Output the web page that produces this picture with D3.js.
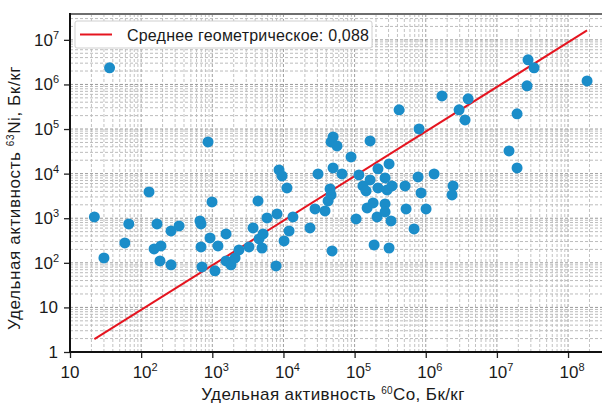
<!DOCTYPE html>
<html>
<head>
<meta charset="utf-8">
<script src="https://cdn.jsdelivr.net/npm/d3@7"></script>
<style>
  html, body { margin: 0; padding: 0; background: #fff; }
  svg { display: block; font-family: "Liberation Sans", Arial, sans-serif; }
</style>
</head>
<body>
<svg id="chart" width="602" height="406"></svg>
<script>
// Specific activity of 60Co (x) and 63Ni (y) per sample, Bq/kg
const co60 = [
  22, 30, 59, 67, 36, 129, 167, 152, 190, 184,
  263, 341, 263, 671, 694, 929, 694, 716, 871, 991,
  1090, 1200, 1560, 1560, 1830, 2090, 2370, 3280, 3740, 4390,
  4540, 5000, 5170, 5880, 8130, 7870, 8670, 9550, 11200, 10200,
  12000, 13600, 23600, 27800, 38400, 30600, 48200, 42400, 46700, 45200,
  49800, 49800, 46700, 56600, 66500, 89100, 115000, 105000, 150000, 165000,
  165000, 131000, 145000, 182000, 213000, 213000, 207000, 188000, 268000, 268000,
  268000, 286000, 305000, 336000, 325000, 305000, 422000, 512000, 529000, 685000,
  805000, 780000, 859000, 1010000, 1310000, 1690000, 2420000, 2340000, 2940000, 3570000,
  3940000, 14800000, 19200000, 19200000, 26500000, 27400000, 33300000, 185000000
];
const ni63 = [
  1070, 129, 279, 745, 2360000, 3890, 745, 205, 239, 110,
  519, 671, 90, 869, 745, 361, 227, 81, 51500, 2320,
  66, 239, 444, 110, 90, 129, 194, 227, 606, 2440,
  343, 215, 444, 1015, 1250, 85, 12100, 8890, 4780, 309,
  519, 1070, 606, 1620, 1460, 9860, 185, 2440, 3330, 4540,
  13400, 66700, 51500, 41900, 9860, 23700, 9360, 964, 1700, 54200,
  7230, 5300, 4100, 2200, 12800, 4780, 1070, 252, 8020, 2090,
  1380, 4310, 16500, 5300, 869, 215, 269000, 5300, 1620, 575,
  100700, 8440, 3690, 1620, 9860, 554000, 5300, 3330, 269000, 160000,
  475000, 32300, 13400, 219000, 929000, 3560000, 2360000, 1200000
];
const geoMeanRatio = 0.088;
const legendLabel = "Среднее геометрическое: 0,088";
const xMajorTicks = [10, 1e2, 1e3, 1e4, 1e5, 1e6, 1e7, 1e8];
const yMajorTicks = [1, 10, 1e2, 1e3, 1e4, 1e5, 1e6, 1e7];
const xTitle = ["Удельная активность ", "60", "Co, Бк/кг"];
const yTitle = ["Удельная активность ", "63", "Ni, Бк/кг"];

const svg = d3.select("#chart");
const pLeft = 70, pRight = 602, pTop = 14, pBottom = 352;

const x = d3.scaleLog().domain([10, 3e8]).range([pLeft, pRight]);
const y = d3.scaleLog().domain([1, 3.8e7]).range([pBottom, pTop]);

// minor ticks: 2..9 within each decade
function minors(scale) {
  const [a, b] = scale.domain();
  const out = [];
  for (let e = Math.floor(Math.log10(a)); e <= Math.ceil(Math.log10(b)); e++) {
    for (let m = 2; m <= 9; m++) {
      const v = m * Math.pow(10, e);
      if (v > a && v < b) out.push(v);
    }
  }
  return out;
}
const xMinor = minors(x), yMinor = minors(y);

svg.append("defs").append("clipPath").attr("id", "plot")
  .append("rect").attr("x", pLeft).attr("y", pTop)
  .attr("width", pRight - pLeft).attr("height", pBottom - pTop);

// dashed grid on every major and minor tick
const grid = svg.append("g").attr("clip-path", "url(#plot)");
grid.selectAll("line.gx").data(xMinor.concat(xMajorTicks)).join("line")
  .attr("x1", d => x(d)).attr("x2", d => x(d))
  .attr("y1", pTop).attr("y2", pBottom)
  .attr("stroke", d => xMajorTicks.includes(d) ? "#a0a0a0" : "#c2c2c2")
  .attr("stroke-width", 1).attr("stroke-dasharray", "3,2");
grid.selectAll("line.gy").data(yMinor.concat(yMajorTicks)).join("line")
  .attr("y1", d => y(d)).attr("y2", d => y(d))
  .attr("x1", pLeft).attr("x2", pRight)
  .attr("stroke", d => yMajorTicks.includes(d) ? "#999" : "#bcbcbc")
  .attr("stroke-width", 1).attr("stroke-dasharray", "3,2");

// axes with major and minor ticks (labels drawn separately for superscripts)
const gx = svg.append("g").attr("transform", `translate(0,${pBottom})`);
gx.call(d3.axisBottom(x).tickValues(xMinor).tickSize(3).tickFormat(""));
gx.call(d3.axisBottom(x).tickValues(xMajorTicks).tickSize(6).tickFormat(""));
const gy = svg.append("g").attr("transform", `translate(${pLeft},0)`);
gy.call(d3.axisLeft(y).tickValues(yMinor).tickSize(3).tickFormat(""));
gy.call(d3.axisLeft(y).tickValues(yMajorTicks).tickSize(6).tickFormat(""));
svg.selectAll(".domain").remove();
svg.selectAll(".tick line").attr("stroke", "#222").attr("stroke-width", 1.3);

// spines
svg.append("line").attr("x1", pLeft).attr("x2", pRight).attr("y1", pTop).attr("y2", pTop)
  .attr("stroke", "#6e6e6e").attr("stroke-width", 2);
svg.append("line").attr("x1", pLeft).attr("x2", pLeft).attr("y1", pTop - 1).attr("y2", pBottom + 1)
  .attr("stroke", "#111").attr("stroke-width", 2);
svg.append("line").attr("x1", pLeft - 1).attr("x2", pRight).attr("y1", pBottom).attr("y2", pBottom)
  .attr("stroke", "#111").attr("stroke-width", 2);

// power-of-ten label: "1", "10", or "10" with superscript exponent
function powLabel(sel, v) {
  const e = Math.round(Math.log10(v));
  if (e === 0) { sel.text("1"); return; }
  if (e === 1) { sel.text("10"); return; }
  sel.append("tspan").text("10");
  sel.append("tspan").attr("dy", -7).attr("font-size", 11).text(e);
}
const tickFont = 17;
svg.append("g").selectAll("text").data(xMajorTicks).join("text")
  .attr("x", d => x(d) + (d > 10 ? 4 : 0)).attr("y", pBottom + 26)
  .attr("text-anchor", "middle").attr("font-size", tickFont).attr("fill", "#1a1a1a")
  .each(function (d) { powLabel(d3.select(this), d); });
svg.append("g").selectAll("text").data(yMajorTicks).join("text")
  .attr("x", pLeft - 12).attr("y", d => y(d) + 6)
  .attr("text-anchor", "end").attr("font-size", tickFont).attr("fill", "#1a1a1a")
  .each(function (d) {
    const e = Math.round(Math.log10(d));
    const t = d3.select(this);
    if (e <= 1) { powLabel(t, d); return; }
    t.attr("text-anchor", "start").attr("x", 34);
    powLabel(t, d);
  });

// axis titles
function titleText(sel, parts) {
  sel.append("tspan").text(parts[0]);
  sel.append("tspan").attr("dy", -6).attr("font-size", 10).text(parts[1]);
  sel.append("tspan").attr("dy", 6).text(parts[2]);
}
svg.append("text").attr("x", 333).attr("y", 400)
  .attr("text-anchor", "middle").attr("font-size", 17).attr("letter-spacing", 0.4)
  .attr("fill", "#1a1a1a")
  .call(titleText, xTitle);
svg.append("text").attr("transform", `translate(20,198) rotate(-90)`)
  .attr("text-anchor", "middle").attr("font-size", 17).attr("letter-spacing", 0.6)
  .attr("fill", "#1a1a1a")
  .call(titleText, yTitle);

// geometric-mean ratio line: Ni = ratio * Co across the data range
const [cMin, cMax] = d3.extent(co60);
svg.append("line")
  .attr("x1", x(cMin)).attr("y1", y(cMin * geoMeanRatio))
  .attr("x2", x(cMax)).attr("y2", y(cMax * geoMeanRatio))
  .attr("stroke", "#e5141f").attr("stroke-width", 2);

// samples
svg.append("g").attr("clip-path", "url(#plot)")
  .selectAll("circle").data(d3.range(co60.length)).join("circle")
  .attr("cx", i => x(co60[i])).attr("cy", i => y(ni63[i]))
  .attr("r", 5.5).attr("fill", "#1b8dc9");

// legend
const lg = svg.append("g");
lg.append("rect").attr("x", 75).attr("y", 21).attr("width", 297).attr("height", 27)
  .attr("rx", 2).attr("fill", "#fff").attr("stroke", "#cfcfcf").attr("stroke-width", 1);
lg.append("line").attr("x1", 80).attr("x2", 112).attr("y1", 34.5).attr("y2", 34.5)
  .attr("stroke", "#e5141f").attr("stroke-width", 2);
lg.append("text").attr("x", 127).attr("y", 41).attr("font-size", 16).attr("letter-spacing", 0.2)
  .attr("fill", "#1a1a1a")
  .text(legendLabel);
</script>
</body>
</html>
